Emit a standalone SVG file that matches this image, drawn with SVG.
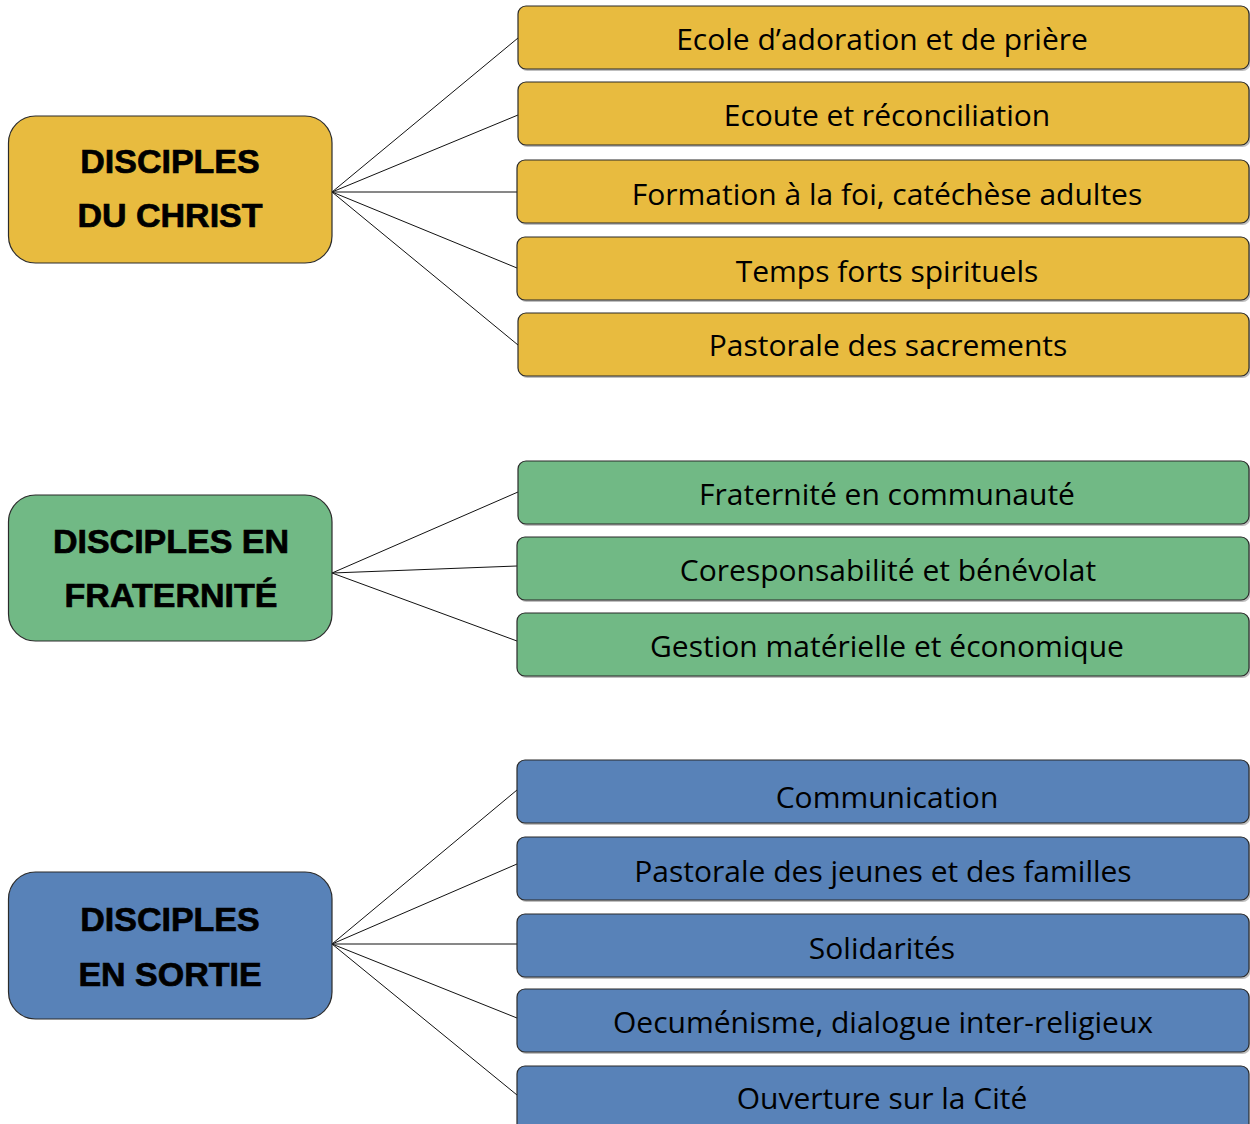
<svg xmlns="http://www.w3.org/2000/svg" width="1250" height="1124" viewBox="0 0 1250 1124">
<style>
.main{stroke:#2b2b2b;stroke-width:1.2}
.sub{stroke:#2b2b2b;stroke-width:1.2}
.sh{fill:#8a8a8a;opacity:0.55}
.y{fill:#E8BB3F}
.g{fill:#71B985}
.b{fill:#5882B8}
.ht{font-family:"Liberation Sans",Arial,sans-serif;font-weight:bold;font-size:34px;fill:#000;stroke:#000;stroke-width:0.7;text-anchor:middle}
.st{font-family:"Open Sans","Liberation Sans",sans-serif;font-size:30px;fill:#000;text-anchor:middle}
.cn{stroke:#111;stroke-width:1;fill:none}
</style>
<rect width="1250" height="1124" fill="#fff"/>
<g id="connectors">
<line class="cn" x1="332" y1="192" x2="518" y2="38"/>
<line class="cn" x1="332" y1="192" x2="518" y2="115"/>
<line class="cn" x1="332" y1="192" x2="517" y2="192"/>
<line class="cn" x1="332" y1="192" x2="517" y2="268"/>
<line class="cn" x1="332" y1="192" x2="518" y2="345"/>
<line class="cn" x1="332" y1="573" x2="518" y2="492"/>
<line class="cn" x1="332" y1="573" x2="517" y2="566"/>
<line class="cn" x1="332" y1="573" x2="517" y2="641"/>
<line class="cn" x1="332" y1="944" x2="517" y2="790"/>
<line class="cn" x1="332" y1="944" x2="517" y2="864"/>
<line class="cn" x1="332" y1="944" x2="517" y2="944"/>
<line class="cn" x1="332" y1="944" x2="517" y2="1018"/>
<line class="cn" x1="332" y1="944" x2="517" y2="1095"/>
</g>
<g id="n-christ">
<rect class="main y" x="8.5" y="116" width="323.5" height="147" rx="27"/>
<text class="ht" x="170" y="173">DISCIPLES</text>
<text class="ht" x="170" y="227">DU CHRIST</text>
</g>
<g id="n-fraternite">
<rect class="main g" x="8.5" y="495" width="323.5" height="146" rx="27"/>
<text class="ht" x="171" y="553">DISCIPLES EN</text>
<text class="ht" x="171" y="607">FRATERNITÉ</text>
</g>
<g id="n-sortie">
<rect class="main b" x="8.5" y="872" width="323.5" height="147" rx="27"/>
<text class="ht" x="170" y="931">DISCIPLES</text>
<text class="ht" x="170" y="986">EN SORTIE</text>
</g>
<g id="y1"><rect class="sh" x="519.5" y="8" width="731" height="63" rx="8"/><rect class="sub y" x="518" y="6" width="731" height="63" rx="8"/><text class="st" x="882" y="50">Ecole d’adoration et de prière</text></g>
<g id="y2"><rect class="sh" x="519.5" y="84" width="731" height="63" rx="8"/><rect class="sub y" x="518" y="82" width="731" height="63" rx="8"/><text class="st" x="887" y="126">Ecoute et réconciliation</text></g>
<g id="y3"><rect class="sh" x="518.5" y="162" width="732" height="63" rx="8"/><rect class="sub y" x="517" y="160" width="732" height="63" rx="8"/><text class="st" x="887" y="205">Formation à la foi, catéchèse adultes</text></g>
<g id="y4"><rect class="sh" x="518.5" y="239" width="732" height="63" rx="8"/><rect class="sub y" x="517" y="237" width="732" height="63" rx="8"/><text class="st" x="887" y="282">Temps forts spirituels</text></g>
<g id="y5"><rect class="sh" x="519.5" y="315" width="731" height="63" rx="8"/><rect class="sub y" x="518" y="313" width="731" height="63" rx="8"/><text class="st" x="888" y="356">Pastorale des sacrements</text></g>
<g id="g1"><rect class="sh" x="519.5" y="463" width="731" height="63" rx="8"/><rect class="sub g" x="518" y="461" width="731" height="63" rx="8"/><text class="st" x="887" y="505">Fraternité en communauté</text></g>
<g id="g2"><rect class="sh" x="518.5" y="539" width="732" height="63" rx="8"/><rect class="sub g" x="517" y="537" width="732" height="63" rx="8"/><text class="st" x="888" y="581">Coresponsabilité et bénévolat</text></g>
<g id="g3"><rect class="sh" x="518.5" y="615" width="732" height="63" rx="8"/><rect class="sub g" x="517" y="613" width="732" height="63" rx="8"/><text class="st" x="887" y="657">Gestion matérielle et économique</text></g>
<g id="b1"><rect class="sh" x="518.5" y="762" width="732" height="63" rx="8"/><rect class="sub b" x="517" y="760" width="732" height="63" rx="8"/><text class="st" x="887" y="808">Communication</text></g>
<g id="b2"><rect class="sh" x="518.5" y="839" width="732" height="63" rx="8"/><rect class="sub b" x="517" y="837" width="732" height="63" rx="8"/><text class="st" x="883" y="882">Pastorale des jeunes et des familles</text></g>
<g id="b3"><rect class="sh" x="518.5" y="916" width="732" height="63" rx="8"/><rect class="sub b" x="517" y="914" width="732" height="63" rx="8"/><text class="st" x="882" y="959">Solidarités</text></g>
<g id="b4"><rect class="sh" x="518.5" y="991" width="732" height="63" rx="8"/><rect class="sub b" x="517" y="989" width="732" height="63" rx="8"/><text class="st" x="883" y="1033">Oecuménisme, dialogue inter-religieux</text></g>
<g id="b5"><rect class="sub b" x="517" y="1066" width="732" height="75" rx="8"/><text class="st" x="882" y="1109">Ouverture sur la Cité</text></g>
</svg>
